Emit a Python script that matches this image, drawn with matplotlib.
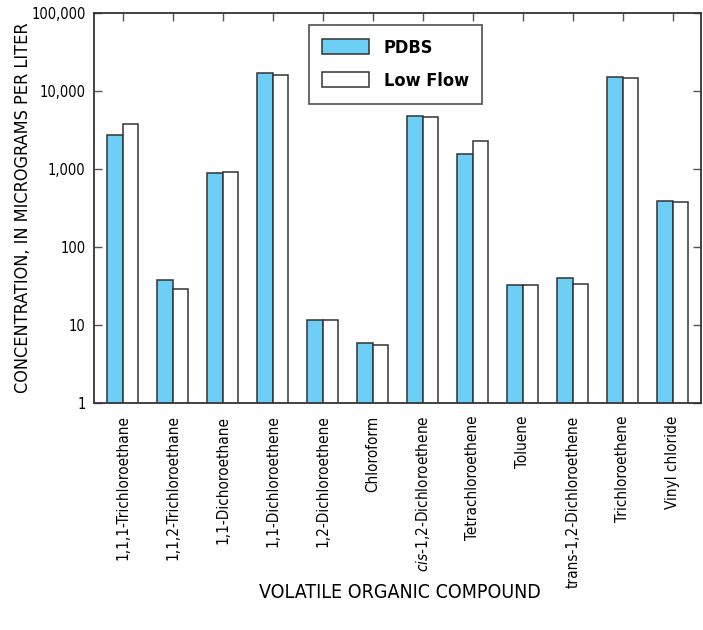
import matplotlib
matplotlib.use("Agg")
import matplotlib.pyplot as plt
import numpy as np
from matplotlib.ticker import FixedLocator, FuncFormatter, NullLocator

compounds = ["1,1,1-Trichloroethane", "1,1,2-Trichloroethane", "1,1-Dichoroethane",
             "1,1-Dichloroethene", "1,2-Dichloroethene", "Chloroform",
             r"$\it{cis}$-1,2-Dichloroethene", "Tetrachloroethene", "Toluene",
             "trans-1,2-Dichloroethene", "Trichloroethene", "Vinyl chloride"]
pdbs = [2730, 37.8, 889, 17170, 11.6, 5.93, 4780, 1573, 32.9, 40.0, 15120, 389]
low_flow = [3810, 29.2, 906, 16180, 11.6, 5.49, 4600, 2305, 32.9, 33.5, 14520, 378]
yticks = [1, 10, 100, 1000, 10000, 100000]

# condensed sans to get close to the Univers Condensed look
plt.rcParams['font.family'] = ['DejaVu Sans']
plt.rcParams['font.stretch'] = 'condensed'
plt.rcParams['mathtext.fontset'] = 'custom'
plt.rcParams['mathtext.it'] = 'DejaVu Sans:italic:stretch=condensed'
plt.rcParams['mathtext.rm'] = 'DejaVu Sans:stretch=condensed'

fig = plt.figure(figsize=(7.03, 6.3), dpi=100)
ax = fig.add_axes([94/703, 227/630, 607/703, 390/630])

x = np.arange(len(compounds))
w = 0.31
edge = '#333333'
ax.bar(x - w/2, pdbs, w, color='#6dcff6', edgecolor=edge, linewidth=1.1, label='PDBS')
ax.bar(x + w/2, low_flow, w, color='white', edgecolor=edge, linewidth=1.1, label='Low Flow')

ax.set_yscale('log')
ax.set_ylim(1, 100000)
ax.set_xlim(-0.574, 11.566)
ax.yaxis.set_major_locator(FixedLocator(yticks))
ax.yaxis.set_minor_locator(NullLocator())
ax.yaxis.set_major_formatter(FuncFormatter(lambda v, p: f"{int(v):,}"))
ax.tick_params(axis='y', direction='in', length=6, width=1, color='#555555',
               right=True, labelsize=10.5, pad=6)

ax.set_xticks(x)
ax.set_xticklabels(compounds, rotation=90, fontsize=11)
ax.tick_params(axis='x', direction='in', length=6, width=1, color='#555555',
               top=True, bottom=False, pad=9)

for s in ax.spines.values():
    s.set_linewidth(1.3)
    s.set_color('#333333')

ax.set_ylabel("CONCENTRATION, IN MICROGRAMS PER LITER", fontsize=13)
ax.yaxis.set_label_coords(-0.102, 0.5)
fig.text(400/703, 1 - 593/630, "VOLATILE ORGANIC COMPOUND", fontsize=14,
         ha='center', va='center')

leg = ax.legend(loc='upper left', bbox_to_anchor=(0.354, 0.969), borderaxespad=0,
                frameon=True, fancybox=False, edgecolor='#333333',
                handlelength=2.6, handleheight=0.9, handletextpad=0.8,
                borderpad=0.75, labelspacing=0.85,
                prop={'weight': 'bold', 'size': 13})
leg.get_frame().set_linewidth(1.3)

fig.savefig("out.png", dpi=100)
